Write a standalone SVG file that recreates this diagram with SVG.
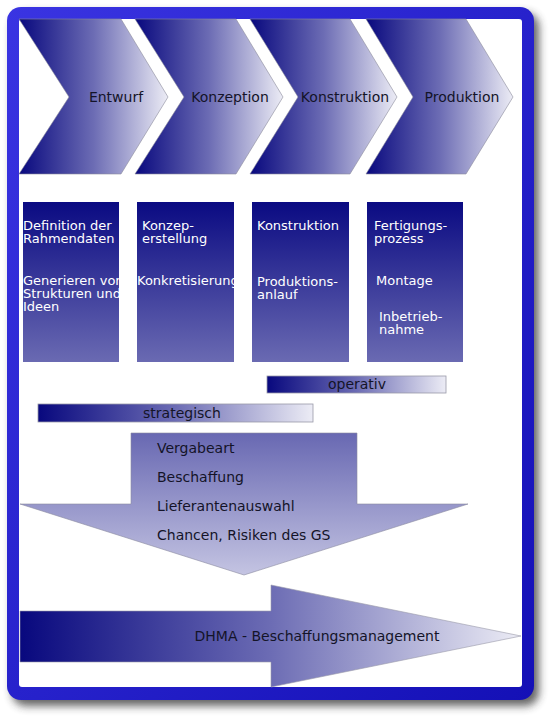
<svg xmlns="http://www.w3.org/2000/svg" width="557" height="723" viewBox="0 0 557 723">
<defs>
<linearGradient id="frameG" x1="0" y1="0" x2="1" y2="1"><stop offset="0" stop-color="#3a34e2"/><stop offset="1" stop-color="#1410b6"/></linearGradient>
<linearGradient id="hG" x1="0" y1="0" x2="1" y2="0"><stop offset="0" stop-color="#08087e"/><stop offset="0.5" stop-color="#6c6cb4"/><stop offset="1" stop-color="#ececf5"/></linearGradient>
<linearGradient id="vG" x1="0" y1="0" x2="0" y2="1"><stop offset="0" stop-color="#0a0a82"/><stop offset="1" stop-color="#6a6ab2"/></linearGradient>
<linearGradient id="downG" x1="0" y1="0" x2="0" y2="1"><stop offset="0" stop-color="#6868b2"/><stop offset="1" stop-color="#c4c4e2"/></linearGradient>
<filter id="sh" x="-10%" y="-10%" width="130%" height="130%"><feGaussianBlur stdDeviation="4"/></filter>
<clipPath id="c1"><rect x="23" y="202" width="96" height="160"/></clipPath>
<clipPath id="c2"><rect x="137" y="202" width="97" height="160"/></clipPath>
<style>
.chev{fill:url(#hG);stroke:#8a8a9a;stroke-width:0.6}
.box{fill:url(#vG)}
.bar{fill:url(#hG);stroke:#9a9aa8;stroke-width:0.8}
.t{font-family:"DejaVu Sans",Verdana,sans-serif;font-size:14px;fill:#141428}
.w{font-family:"DejaVu Sans",Verdana,sans-serif;font-size:13px;fill:#ffffff}
</style>
</defs>
<g id="frame">
<rect x="12" y="13" width="527" height="693" rx="14" fill="#333" opacity="0.75" filter="url(#sh)"/>
<rect x="7" y="7" width="527" height="693" rx="14" fill="url(#frameG)"/>
<rect x="19" y="19" width="503" height="668" rx="3" fill="#ffffff"/>
</g>
<g id="chev1"><path class="chev" d="M19,19 L121,19 L168,97 L121,174 L19,174 L69,97 Z"/><text class="t" x="116" y="102" text-anchor="middle">Entwurf</text></g>
<g id="chev2"><path class="chev" d="M135,19 L236,19 L283,97 L236,174 L135,174 L184,97 Z"/><text class="t" x="230" y="102" text-anchor="middle">Konzeption</text></g>
<g id="chev3"><path class="chev" d="M250,19 L350,19 L397,97 L350,174 L250,174 L298,97 Z"/><text class="t" x="345" y="102" text-anchor="middle">Konstruktion</text></g>
<g id="chev4"><path class="chev" d="M366,19 L466,19 L513,97 L466,174 L366,174 L413,97 Z"/><text class="t" x="462" y="102" text-anchor="middle">Produktion</text></g>
<g id="box1"><rect class="box" x="23" y="202" width="96" height="160"/>
<g clip-path="url(#c1)"><text class="w" x="23" y="230">Definition der</text><text class="w" x="23" y="243">Rahmendaten</text><text class="w" x="23" y="285">Generieren von</text><text class="w" x="23" y="298">Strukturen und</text><text class="w" x="23" y="311">Ideen</text></g></g>
<g id="box2"><rect class="box" x="137" y="202" width="97" height="160"/>
<g clip-path="url(#c2)"><text class="w" x="142" y="230">Konzep-</text><text class="w" x="142" y="243">erstellung</text><text class="w" x="137" y="285">Konkretisierung</text></g></g>
<g id="box3"><rect class="box" x="252" y="202" width="97" height="160"/>
<text class="w" x="257" y="230">Konstruktion</text><text class="w" x="257" y="286">Produktions-</text><text class="w" x="257" y="299">anlauf</text></g>
<g id="box4"><rect class="box" x="367" y="202" width="96" height="160"/>
<text class="w" x="374" y="230">Fertigungs-</text><text class="w" x="374" y="243">prozess</text><text class="w" x="376" y="285">Montage</text><text class="w" x="379" y="321">Inbetrieb-</text><text class="w" x="379" y="334">nahme</text></g>
<g id="operativ"><rect class="bar" x="267" y="376" width="179" height="17"/><text class="t" x="357" y="389" text-anchor="middle">operativ</text></g>
<g id="strategisch"><rect class="bar" x="38" y="404" width="275" height="18"/><text class="t" x="182" y="418" text-anchor="middle">strategisch</text></g>
<g id="down"><path d="M131,433 L357,433 L357,504 L468,504 L244,575 L20,504 L131,504 Z" fill="url(#downG)" stroke="#8a8aa0" stroke-width="0.6"/>
<text class="t" x="157" y="453">Vergabeart</text><text class="t" x="157" y="482">Beschaffung</text><text class="t" x="157" y="511">Lieferantenauswahl</text><text class="t" x="157" y="540">Chancen, Risiken des GS</text></g>
<g id="dhma"><path d="M20,611 L271,611 L271,585 L521,636 L271,687 L271,662 L20,662 Z" fill="url(#hG)" stroke="#9a9aaa" stroke-width="0.6"/>
<text class="t" x="317" y="641" text-anchor="middle">DHMA - Beschaffungsmanagement</text></g>
<g id="connectors"/>
</svg>
